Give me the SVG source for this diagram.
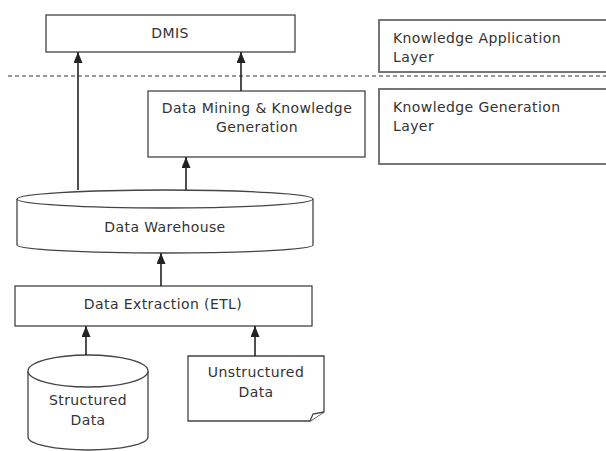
<svg xmlns="http://www.w3.org/2000/svg" width="606" height="451" viewBox="0 0 606 451">
  <style>
    .box { fill: #ffffff; stroke: #444444; stroke-width: 1.3; }
    .layer { fill: #ffffff; stroke: #666666; stroke-width: 1.8; }
    .shape { fill: #ffffff; stroke: #444444; stroke-width: 1.3; }
    .edge { fill: none; stroke: #222222; stroke-width: 1.6; }
    .sep { fill: none; stroke: #333333; stroke-width: 1; stroke-dasharray: 4 3; }
    text { font-family: "DejaVu Sans", "Liberation Sans", sans-serif; font-size: 14px; letter-spacing: 0.4px; fill: #333333; }
    .c { text-anchor: middle; }
  </style>
  <defs>
    <marker id="arrow" viewBox="0 0 10 10" refX="10" refY="5" markerWidth="11" markerHeight="9" markerUnits="userSpaceOnUse" orient="auto" preserveAspectRatio="none">
      <path d="M0,0 L10,5 L0,10 Z" fill="#222222"/>
    </marker>
  </defs>

  <rect width="606" height="451" fill="#ffffff"/>

  <!-- layer separator -->
  <line class="sep" x1="8" y1="76" x2="606" y2="76"/>

  <!-- layer labels -->
  <g id="knowledge-application-layer">
    <rect class="layer" x="379" y="20" width="240" height="52"/>
    <text x="393" y="43">Knowledge Application</text>
    <text x="393" y="62">Layer</text>
  </g>
  <g id="knowledge-generation-layer">
    <rect class="layer" x="379" y="89" width="240" height="75"/>
    <text x="393" y="112">Knowledge Generation</text>
    <text x="393" y="131">Layer</text>
  </g>

  <!-- nodes -->
  <g id="dmis">
    <rect class="box" x="46" y="15" width="249" height="37"/>
    <text class="c" x="170" y="38">DMIS</text>
  </g>

  <g id="data-mining">
    <rect class="box" x="148" y="91" width="217" height="66"/>
    <text class="c" x="257" y="113">Data Mining &amp; Knowledge</text>
    <text class="c" x="257" y="132">Generation</text>
  </g>

  <g id="data-warehouse">
    <path class="shape" d="M17,199 L17,245 A148,8 0 0 0 313,245 L313,199"/>
    <ellipse class="shape" cx="165" cy="199" rx="148" ry="9"/>
    <text class="c" x="165" y="232">Data Warehouse</text>
  </g>

  <g id="etl">
    <rect class="box" x="15" y="286" width="297" height="40"/>
    <text class="c" x="163" y="309">Data Extraction (ETL)</text>
  </g>

  <g id="structured-data">
    <path class="shape" d="M28,371 L28,437 A60,13 0 0 0 148,437 L148,371"/>
    <ellipse class="shape" cx="88" cy="371" rx="60" ry="16"/>
    <text class="c" x="88" y="405">Structured</text>
    <text class="c" x="88" y="425">Data</text>
  </g>

  <g id="unstructured-data">
    <path class="shape" d="M188,356 L324,356 L324,412 L310,421 L188,421 Z"/>
    <path class="shape" d="M310,421 L313,414 L324,412"/>
    <text class="c" x="256" y="377">Unstructured</text>
    <text class="c" x="256" y="397">Data</text>
  </g>

  <!-- connectors -->
  <g id="connectors">
    <line class="edge" x1="78" y1="190" x2="78" y2="52" marker-end="url(#arrow)"/>
    <line class="edge" x1="241" y1="91" x2="241" y2="52" marker-end="url(#arrow)"/>
    <line class="edge" x1="186" y1="190" x2="186" y2="157" marker-end="url(#arrow)"/>
    <line class="edge" x1="161" y1="286" x2="161" y2="253" marker-end="url(#arrow)"/>
    <line class="edge" x1="86" y1="355" x2="86" y2="326" marker-end="url(#arrow)"/>
    <line class="edge" x1="255" y1="356" x2="255" y2="326" marker-end="url(#arrow)"/>
  </g>
</svg>
